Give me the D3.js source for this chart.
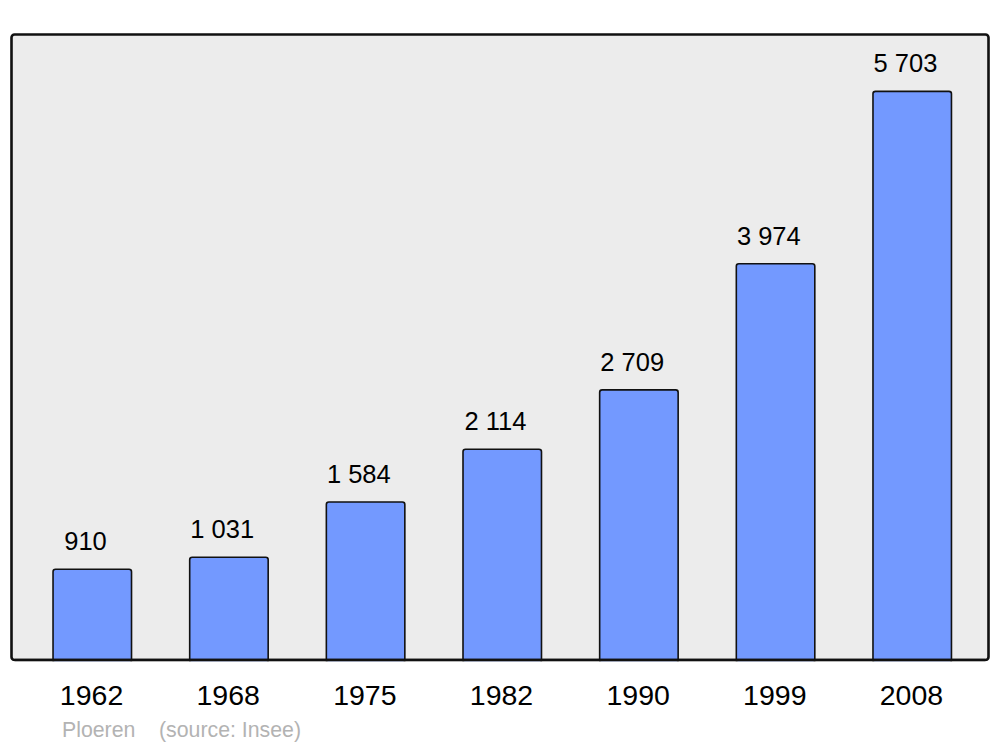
<!DOCTYPE html>
<html>
<head>
<meta charset="utf-8">
<script src="https://cdn.jsdelivr.net/npm/d3@7"></script>
<style>
html,body{margin:0;padding:0;background:#fff;}
svg{display:block;font-family:"Liberation Sans",Arial,sans-serif;}
</style>
</head>
<body>
<svg id="chart" width="1000" height="747"></svg>
<script>
const years = ["1962","1968","1975","1982","1990","1999","2008"];
const population = [910, 1031, 1584, 2114, 2709, 3974, 5703];
const valueLabels = ["910","1 031","1 584","2 114","2 709","3 974","5 703"];
const commune = "Ploeren";
const source = "(source: Insee)";

const svg = d3.select("#chart");
const frame = {x0: 11.5, y0: 34.5, x1: 988.5, y1: 660};

const x = d3.scaleBand().domain(years).range([24.2, 980.8]).paddingInner(0.422).paddingOuter(0.211);
const y = d3.scaleLinear().domain([0, 6273]).range([frame.y1, frame.y0]);

// background frame
svg.append("rect")
  .attr("x", frame.x0).attr("y", frame.y0)
  .attr("width", frame.x1 - frame.x0).attr("height", frame.y1 - frame.y0)
  .attr("rx", 3).attr("ry", 3)
  .attr("fill", "#ececec");

// bars
svg.append("g").selectAll("rect").data(population).join("rect")
  .attr("x", (d,i) => x(years[i]))
  .attr("y", d => y(d))
  .attr("width", x.bandwidth() - 0.5)
  .attr("height", d => y(0) - y(d) + 3)
  .attr("rx", 2.5).attr("ry", 2.5)
  .attr("fill", "#7399ff")
  .attr("stroke", "#111")
  .attr("stroke-width", 1.6);

// frame border on top (covers bar bottoms)
svg.append("rect")
  .attr("x", frame.x0).attr("y", frame.y0)
  .attr("width", frame.x1 - frame.x0).attr("height", frame.y1 - frame.y0)
  .attr("rx", 3).attr("ry", 3)
  .attr("fill", "none")
  .attr("stroke", "#111")
  .attr("stroke-width", 2.6);
// cover below frame
svg.append("rect").attr("x", 0).attr("y", frame.y1 + 1.3).attr("width", 1000).attr("height", 10).attr("fill", "#fff");
svg.append("line").attr("x1", frame.x0+3).attr("x2", frame.x1-3).attr("y1", frame.y1).attr("y2", frame.y1)
  .attr("stroke", "#111").attr("stroke-width", 2.6);

// value labels
svg.append("g").selectAll("text").data(population).join("text")
  .attr("x", (d,i) => x(years[i]) + x.bandwidth()/2 - 7)
  .attr("y", d => y(d) - 19)
  .attr("text-anchor", "middle")
  .attr("font-size", 25.5)
  .attr("fill", "#000")
  .text((d,i) => valueLabels[i]);

// year axis labels
const xAxis = d3.axisBottom(x).tickSize(0).tickPadding(0);
const gx = svg.append("g").attr("transform", `translate(0,${frame.y1})`).call(xAxis);
gx.select(".domain").remove();
gx.selectAll("text")
  .attr("y", 45).attr("dy", null)
  .attr("x", -1)
  .attr("font-size", 28.5)
  .attr("font-family", "Liberation Sans, Arial, sans-serif")
  .attr("fill", "#000");

// footer
svg.append("text").attr("x", 62).attr("y", 737).attr("font-size", 21.3).attr("fill", "#b3b3b3").text(commune);
svg.append("text").attr("x", 159).attr("y", 737).attr("font-size", 21.3).attr("fill", "#b3b3b3").text(source);
</script>
</body>
</html>
